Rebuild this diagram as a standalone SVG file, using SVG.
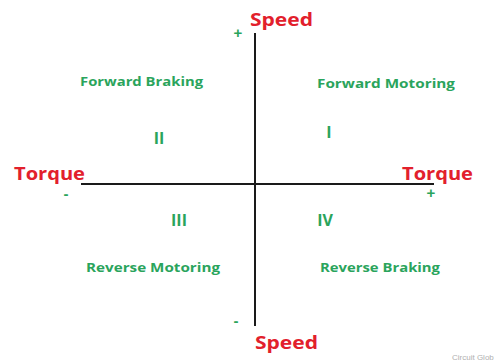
<svg xmlns="http://www.w3.org/2000/svg" width="504" height="362" viewBox="0 0 504 362">
<style>
.ax{stroke:#1a1a1a;stroke-width:2;fill:none}
.red{fill:#e2202c;font-family:"Open Sans","Liberation Sans",sans-serif;font-weight:bold;font-size:18px}
.grn{fill:#2aa45c;font-family:"Open Sans","Liberation Sans",sans-serif;font-weight:bold;font-size:13px}
.num{fill:#2aa45c;font-family:"Open Sans","Liberation Sans",sans-serif;font-weight:bold;font-size:16px}
.sgn{fill:#2aa45c;font-family:"Liberation Sans",sans-serif;font-weight:bold;font-size:15px}
.wm{fill:#b0b0b0;font-family:"Liberation Sans",sans-serif;font-size:8px}
</style>
<rect width="504" height="362" fill="#fff"/>
<g id="connectors">
<line class="ax" x1="255" y1="33" x2="255" y2="326"/>
<line class="ax" x1="81" y1="184" x2="434" y2="184"/>
</g>
<g id="speed-top"><text class="red" x="250" y="26" textLength="63" lengthAdjust="spacingAndGlyphs">Speed</text><text class="sgn" x="238" y="38" text-anchor="middle">+</text></g>
<g id="speed-bottom"><text class="red" x="255" y="349" textLength="63" lengthAdjust="spacingAndGlyphs">Speed</text><text class="sgn" x="236" y="326" text-anchor="middle">-</text></g>
<g id="torque-left"><text class="red" x="14" y="180" textLength="71" lengthAdjust="spacingAndGlyphs">Torque</text><text class="sgn" x="66" y="199" text-anchor="middle" font-size="13">-</text></g>
<g id="torque-right"><text class="red" x="402" y="180" textLength="71" lengthAdjust="spacingAndGlyphs">Torque</text><text class="sgn" x="431" y="198" text-anchor="middle">+</text></g>
<g id="q1"><text class="grn" x="317" y="88" textLength="138" lengthAdjust="spacingAndGlyphs">Forward Motoring</text><text class="num" x="329" y="138" text-anchor="middle">I</text></g>
<g id="q2"><text class="grn" x="80" y="86" textLength="123" lengthAdjust="spacingAndGlyphs">Forward Braking</text><text class="num" x="159" y="144" text-anchor="middle">II</text></g>
<g id="q3"><text class="grn" x="86" y="272" textLength="134" lengthAdjust="spacingAndGlyphs">Reverse Motoring</text><text class="num" x="179" y="226" text-anchor="middle">III</text></g>
<g id="q4"><text class="grn" x="320" y="272" textLength="120" lengthAdjust="spacingAndGlyphs">Reverse Braking</text><text class="num" x="325" y="226" text-anchor="middle">IV</text></g>
<text class="wm" x="452" y="360">Circuit Glob</text>
</svg>
